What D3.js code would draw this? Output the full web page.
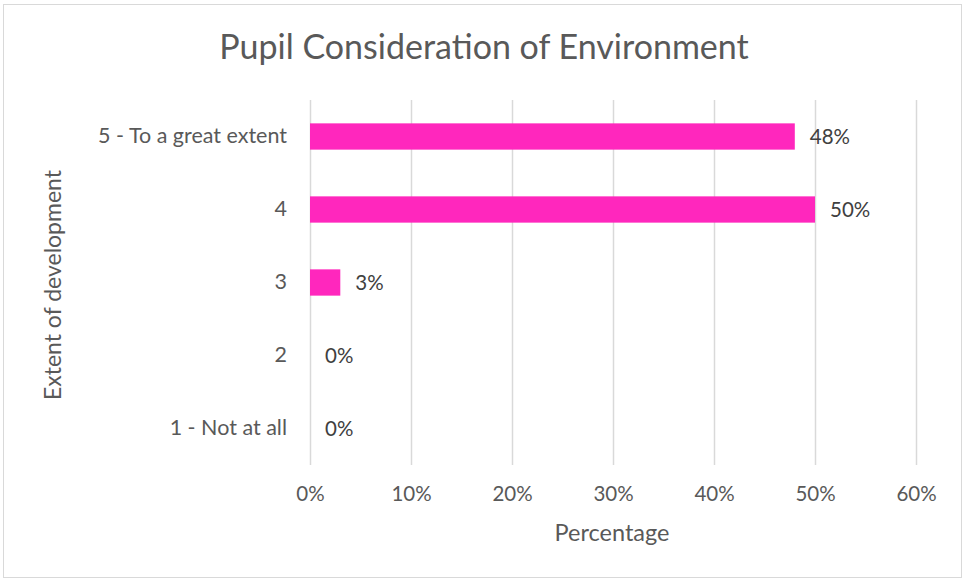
<!DOCTYPE html>
<html>
<head>
<meta charset="utf-8">
<script src="https://cdn.jsdelivr.net/npm/d3@7"></script>
<style>
  html, body { margin: 0; padding: 0; background: #fff; }
  svg { display: block; }
  text { font-family: "Lato", "Open Sans", sans-serif; }
</style>
</head>
<body>
<script>
// Response categories, top to bottom
const categories = ["5 - To a great extent", "4", "3", "2", "1 - Not at all"];
// Share of pupils for each category (%)
const values = [48, 50, 3, 0, 0];
// Axis ticks (%)
const xTicks = [0, 10, 20, 30, 40, 50, 60];

const W = 965, H = 581;
const margin = { left: 310, right: 49, top: 100, bottom: 116 };
const FONT = '"Lato", "Open Sans", sans-serif';

const svg = d3.select("body").append("svg")
  .attr("width", W).attr("height", H);

// Outer chart frame
svg.append("rect")
  .attr("x", 3.5).attr("y", 4.5)
  .attr("width", W - 7).attr("height", H - 8)
  .attr("fill", "#fff").attr("stroke", "#d9d9d9").attr("stroke-width", 1);

const x = d3.scaleLinear().domain([0, 60]).range([margin.left, W - margin.right]);
const y = d3.scaleBand().domain(categories)
  .range([margin.top, H - margin.bottom]).paddingInner(0.64).paddingOuter(0.32);

// Vertical gridlines
svg.append("g").selectAll("line").data(xTicks).join("line")
  .attr("x1", d => x(d) + 0.5).attr("x2", d => x(d) + 0.5)
  .attr("y1", margin.top).attr("y2", H - margin.bottom)
  .attr("stroke", "#d9d9d9").attr("stroke-width", 1.5);

// Bars
svg.append("g").selectAll("rect").data(categories).join("rect")
  .attr("x", x(0))
  .attr("y", d => y(d))
  .attr("width", (d, i) => x(values[i]) - x(0))
  .attr("height", y.bandwidth())
  .attr("fill", "#ff27bd");

// Value labels
svg.append("g").selectAll("text").data(categories).join("text")
  .attr("x", (d, i) => x(values[i]) + 15)
  .attr("y", d => y(d) + y.bandwidth() / 2)
  .attr("dy", "0.36em")
  .attr("fill", "#404040")
  .attr("font-size", 20.5)
  .text((d, i) => values[i] + "%");

// Category axis labels
const yAxis = d3.axisLeft(y).tickSize(0).tickPadding(23);
const gy = svg.append("g").attr("transform", `translate(${x(0)},0)`).call(yAxis);
gy.select(".domain").remove();
gy.selectAll("text")
  .attr("fill", "#595959").attr("font-size", 21.5)
  .style("font-family", FONT);

// Percentage axis labels
const xAxis = d3.axisBottom(x).tickValues(xTicks).tickFormat(d => d + "%")
  .tickSize(0).tickPadding(21);
const gx = svg.append("g").attr("transform", `translate(0,${H - margin.bottom})`).call(xAxis);
gx.select(".domain").remove();
gx.selectAll("text")
  .attr("fill", "#595959").attr("font-size", 20.5)
  .style("font-family", FONT);

// Title
svg.append("text")
  .attr("x", 484).attr("y", 59)
  .attr("text-anchor", "middle")
  .attr("fill", "#595959").attr("font-size", 34)
  .text("Pupil Consideration of Environment");

// Axis titles
svg.append("text")
  .attr("x", 612).attr("y", 541)
  .attr("text-anchor", "middle")
  .attr("fill", "#595959").attr("font-size", 23.5)
  .text("Percentage");

svg.append("text")
  .attr("transform", "translate(61,285) rotate(-90)")
  .attr("text-anchor", "middle")
  .attr("fill", "#595959").attr("font-size", 23)
  .text("Extent of development");
</script>
</body>
</html>
